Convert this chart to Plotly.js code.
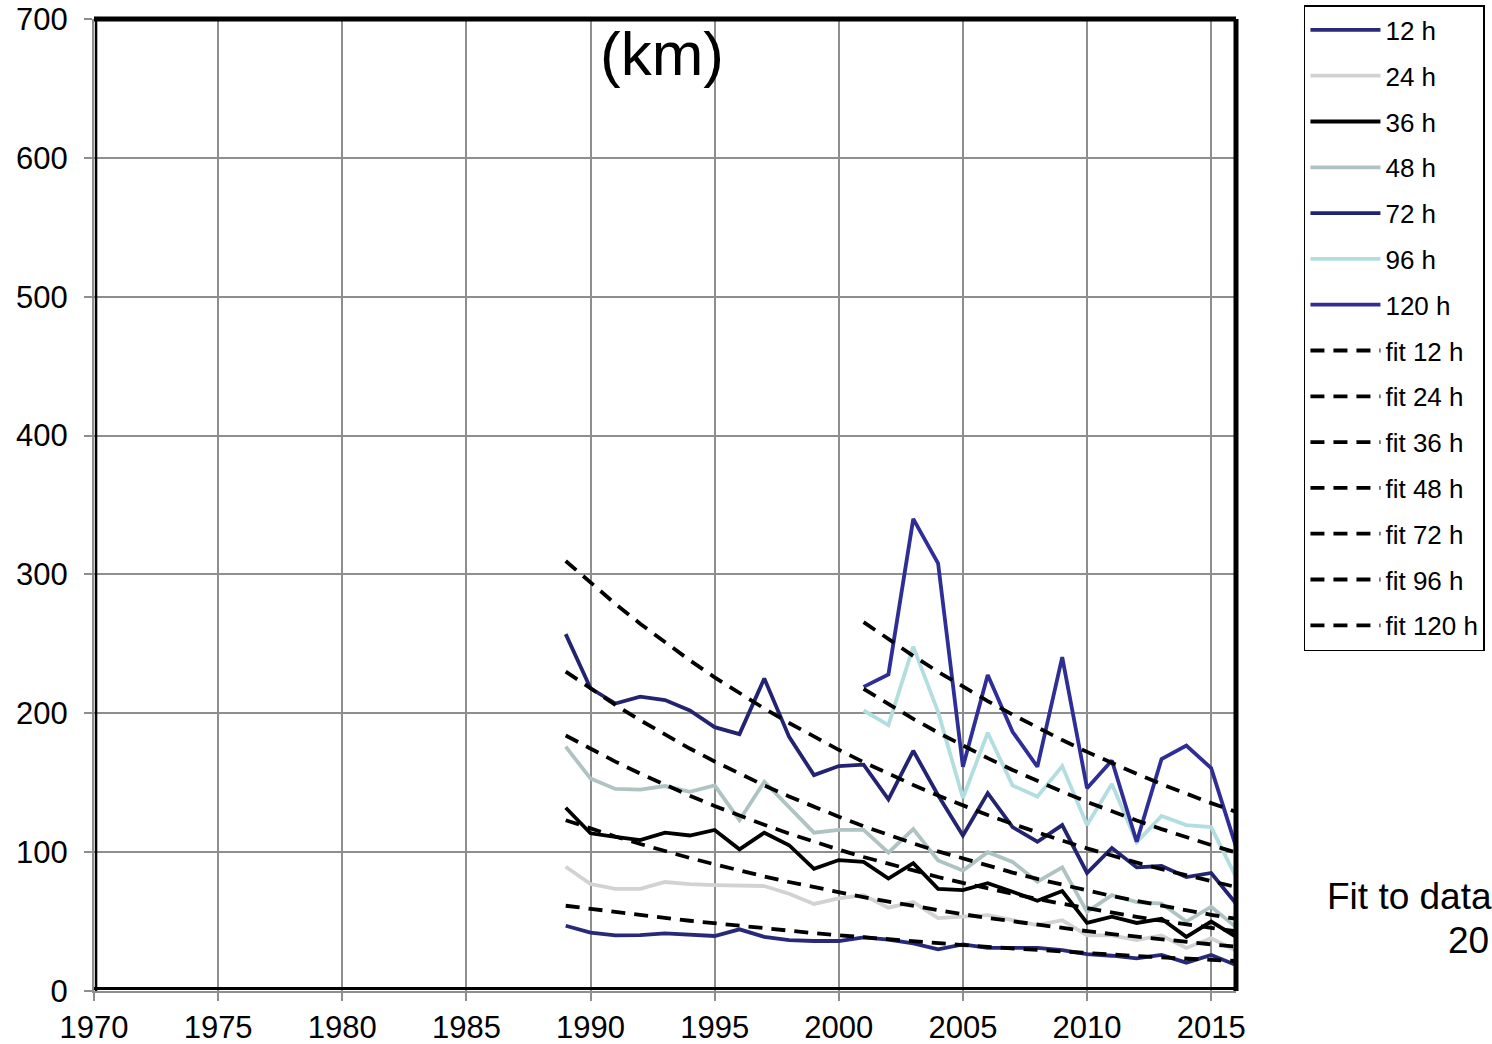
<!DOCTYPE html>
<html>
<head>
<meta charset="utf-8">
<script src="https://cdn.plot.ly/plotly-3.0.1.min.js"></script>
<style>
  html, body { margin: 0; padding: 0; background: #fff; overflow: hidden; }
  #chart { width: 1492px; height: 1044px; }
</style>
</head>
<body>
<div id="chart"></div>
<script>
// Forecast track error by lead time (km), yearly means
const yearsLong  = [1989,1990,1991,1992,1993,1994,1995,1996,1997,1998,1999,2000,2001,2002,
                    2003,2004,2005,2006,2007,2008,2009,2010,2011,2012,2013,2014,2015,2016];
const yearsShort = [2001,2002,2003,2004,2005,2006,2007,2008,2009,2010,2011,2012,2013,2014,2015,2016];

const err12  = [47,42,40,40.3,41.5,40.8,39.6,44.4,39,36.7,36,36,38.6,37,34.3,30,33.6,31,30.7,31,29.5,26.6,25.4,23.5,26,20.4,26,18.7];
const err24  = [89.5,77,73.5,73.5,78.5,77,76.3,76,75.6,70,62.7,66.7,69,60,64,52.5,53.5,54.7,51,47.5,51,40,40,36.7,40,31,38,29];
const err36  = [132,113.6,111,108.7,114,112,116,102,114,105,88,94.3,93,81,92,73.5,72.7,77.6,71.5,65,72,49,53.5,49,52,39,50,39];
const err48  = [176,153,145.5,145,147.6,143.5,148,123,150.7,132,114,116,116,99.6,116.6,94,86.7,100,93,78.7,89,57,69,64,63,50,60.7,46];
const err72  = [257,218,207,212,209.5,202,190,185,225,183,155.5,162,163,138,173,141,112,142.5,118,107.5,119.5,85,103,89,90,82,85,63];
const err96  = [202,191.5,248,201,139,186,148,140,162,119.5,149,107,126,119.5,118,82];
const err120 = [219,228,340,308,161.5,227.5,186.7,161.5,240.5,146,166,107.5,167,176.7,160.5,104];

// Trend curves as plotted
const fit12  = [61.4,59.1,56.8,54.7,52.6,50.6,48.7,46.8,45.0,43.3,41.7,40.1,38.6,37.1,35.7,34.4,33.1,31.8,30.6,29.4,28.3,27.2,26.2,25.2,24.2,23.3,22.4,21.6];
const fit24  = [123.0,117.0,111.3,105.9,100.7,95.8,91.2,86.7,82.5,78.5,74.7,71.0,67.6,64.3,61.2,58.2,55.3,52.6,50.1,47.6,45.3,43.1,41.0,39.0,37.1,35.3,33.6,32.0];
const fit36  = [184.0,174.4,165.2,156.6,148.4,140.6,133.2,126.3,119.7,113.4,107.5,101.8,96.5,91.5,86.7,82.1,77.8,73.8,69.9,66.2,62.8,59.5,56.4,53.4,50.6,48.0,45.4,43.0];
const fit48  = [230.0,217.7,206.0,195.0,184.5,174.6,165.3,156.4,148.0,140.1,132.6,125.5,118.7,112.4,106.3,100.6,95.3,90.1,85.3,80.7,76.4,72.3,68.4,64.8,61.3,58.0,54.9,52.0];
const fit72  = [309.7,293.8,278.8,264.5,251.0,238.1,225.9,214.4,203.4,193.0,183.1,173.7,164.8,156.4,148.4,140.8,133.6,126.7,120.3,114.1,108.3,102.7,97.4,92.5,87.7,83.2,79.0,74.9];
const fit96  = [217.5,206.5,196.0,186.1,176.7,167.7,159.2,151.2,143.5,136.2,129.3,122.8,116.6,110.7,105.1,99.7];
const fit120 = [265.7,253.2,241.3,229.9,219.1,208.8,199.0,189.6,180.7,172.2,164.1,156.4,149.0,142.0,135.3,129.0];

const xTickVals = [1970,1975,1980,1985,1990,1995,2000,2005,2010,2015];
const yTickVals = [0,100,200,300,400,500,600,700];

const FONT = '"Liberation Sans", Arial, sans-serif';
const LW = 3.8;

function solid(name, x, y, color) {
  return { type: 'scatter', mode: 'lines', name: name, x: x, y: y,
           line: { color: color, width: LW }, legendgroup: name };
}
function dashed(name, x, y) {
  return { type: 'scatter', mode: 'lines', name: name, x: x, y: y,
           line: { color: '#000000', width: LW, dash: '14px,9px' }, legendgroup: name };
}

const traces = [
  solid('12 h',  yearsLong,  err12,  '#29297a'),
  solid('24 h',  yearsLong,  err24,  '#d2d2d2'),
  solid('36 h',  yearsLong,  err36,  '#000000'),
  solid('48 h',  yearsLong,  err48,  '#afc3c3'),
  solid('72 h',  yearsLong,  err72,  '#232370'),
  solid('96 h',  yearsShort, err96,  '#b3dee0'),
  solid('120 h', yearsShort, err120, '#2e2e96'),
  dashed('fit 12 h',  yearsLong,  fit12),
  dashed('fit 24 h',  yearsLong,  fit24),
  dashed('fit 36 h',  yearsLong,  fit36),
  dashed('fit 48 h',  yearsLong,  fit48),
  dashed('fit 72 h',  yearsLong,  fit72),
  dashed('fit 96 h',  yearsShort, fit96),
  dashed('fit 120 h', yearsShort, fit120)
];

const GRID = '#8e8e8e';

const layout = {
  width: 1492, height: 1044,
  margin: { l: 94, r: 256, t: 19, b: 53, autoexpand: false },
  paper_bgcolor: '#ffffff', plot_bgcolor: '#ffffff',
  font: { family: FONT, color: '#000000' },
  showlegend: true,
  legend: {
    x: 1.0595, xanchor: 'left', y: 1.0144, yanchor: 'top',
    bgcolor: '#ffffff', bordercolor: '#000000', borderwidth: 1.5,
    font: { family: FONT, size: 26, color: '#000000' },
    traceorder: 'grouped', tracegroupgap: 9, itemwidth: 70,
    maxheight: 1000
  },
  xaxis: {
    range: [1970, 2016], tickmode: 'array', tickvals: xTickVals,
    showgrid: true, gridcolor: GRID, gridwidth: 2,
    showline: true, linecolor: GRID, linewidth: 2,
    ticks: 'outside', ticklen: 8, tickcolor: GRID, tickwidth: 2,
    tickfont: { family: FONT, size: 31, color: '#000000' },
    zeroline: false, fixedrange: true
  },
  yaxis: {
    range: [0, 700], tickmode: 'array', tickvals: yTickVals,
    showgrid: true, gridcolor: GRID, gridwidth: 2,
    showline: true, linecolor: GRID, linewidth: 2,
    ticks: 'outside', ticklen: 8, tickcolor: GRID, tickwidth: 2,
    ticklabelstandoff: 10,
    tickfont: { family: FONT, size: 31, color: '#000000' },
    zeroline: false, fixedrange: true
  },
  shapes: [
    // plot-area frame: thick top and right, thinner left and bottom
    { type: 'line', xref: 'paper', yref: 'paper', x0: 0, x1: 1, y0: 1, y1: 1,
      line: { color: '#000', width: 5 }, layer: 'above' },
    { type: 'line', xref: 'paper', yref: 'paper', x0: 1, x1: 1, y0: 0, y1: 1,
      line: { color: '#000', width: 5 }, layer: 'above' },
    { type: 'line', xref: 'paper', yref: 'paper', x0: 0.0018, x1: 0.0018, y0: 0, y1: 1,
      line: { color: '#000', width: 2.5 }, layer: 'above' },
    { type: 'line', xref: 'paper', yref: 'paper', x0: 0, x1: 1, y0: 0.0025, y1: 0.0025,
      line: { color: '#000', width: 3 }, layer: 'above' }
  ],
  annotations: [
    { text: '(km)', xref: 'paper', yref: 'paper', x: 0.497, y: 0.965,
      xanchor: 'center', yanchor: 'middle', showarrow: false,
      font: { family: FONT, size: 62, color: '#000' } },
    { text: 'Fit to data', xref: 'paper', yref: 'paper', x: 1.0775, y: 0.0976,
      xanchor: 'left', yanchor: 'middle', showarrow: false,
      font: { family: FONT, size: 37, color: '#000' } },
    { text: '20', xref: 'paper', yref: 'paper', x: 1.2233, y: 0.0515,
      xanchor: 'right', yanchor: 'middle', showarrow: false,
      font: { family: FONT, size: 37, color: '#000' } }
  ]
};

Plotly.newPlot('chart', traces, layout, { displayModeBar: false, staticPlot: true });
</script>
</body>
</html>
